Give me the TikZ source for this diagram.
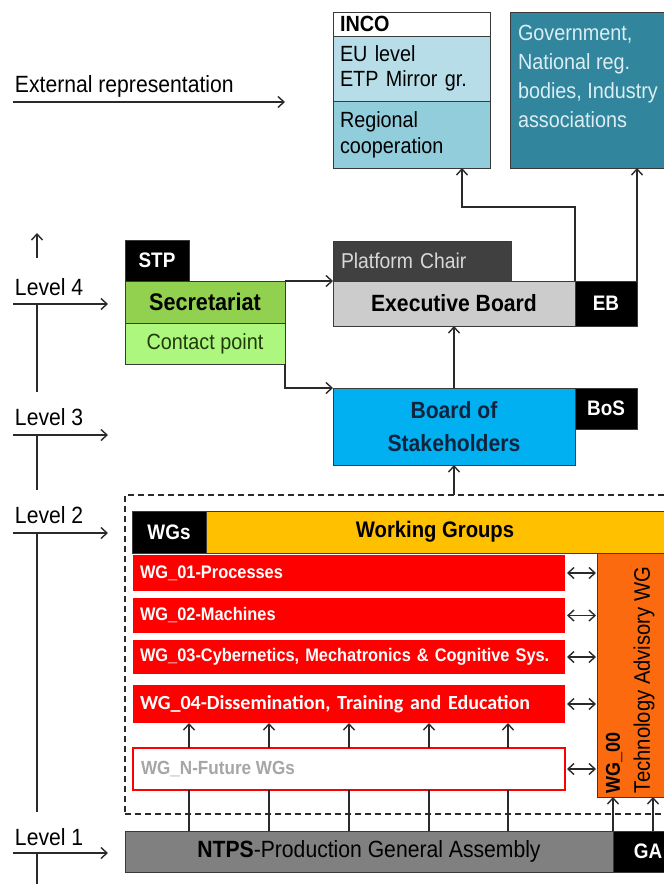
\documentclass[tikz,border=0pt]{standalone}
\usepackage{fontspec}
\setmainfont{Liberation Sans}[FakeStretch=0.9]
\newfontfamily\wgfont{Carlito}
\usetikzlibrary{arrows.meta}

\definecolor{edgec}{HTML}{3A3A3A}
\definecolor{cline}{HTML}{2A2A2A}
\definecolor{incoA}{HTML}{B7DEE8}
\definecolor{incoB}{HTML}{92CDDC}
\definecolor{govc}{HTML}{31859C}
\definecolor{govtext}{HTML}{DBEEF4}
\definecolor{chairc}{HTML}{404040}
\definecolor{chairtext}{HTML}{D9D9D9}
\definecolor{ebc}{HTML}{CCCCCC}
\definecolor{secc}{HTML}{92D050}
\definecolor{contc}{HTML}{AEF77E}
\definecolor{conttext}{HTML}{1F3A0C}
\definecolor{bosc}{HTML}{00B0F0}
\definecolor{bostext}{HTML}{10243F}
\definecolor{wgyellow}{HTML}{FFC000}
\definecolor{wgred}{HTML}{FF0000}
\definecolor{wgorange}{HTML}{FB6A0E}
\definecolor{futuretext}{HTML}{A6A6A6}
\definecolor{gac}{HTML}{808080}

\newcommand\setfs[2]{\fontsize{#1}{#2}\selectfont}

\begin{document}
\begin{tikzpicture}[x=1pt,y=-1pt,
  box/.style={draw=edgec, line width=0.9pt, anchor=north west, inner sep=0pt, outer sep=0pt},
  tag/.style={box, fill=black, text=white, font=\setfs{21}{24}\bfseries},
  wgrow/.style={anchor=north west, fill=wgred, text=white, inner xsep=7pt, inner ysep=0pt,
    outer sep=0pt, minimum width=432pt, text width=418pt, align=left, font=\setfs{18.2}{22}\bfseries},
  conn/.style={draw=cline, line width=1.4pt, -{Straight Barb[length=6pt,width=11pt]}},
  conn2/.style={draw=cline, line width=1.4pt,
    {Straight Barb[length=6pt,width=11pt]}-{Straight Barb[length=6pt,width=11pt]}},
  wire/.style={draw=cline, line width=1.4pt},
  txt/.style={inner sep=0pt, outer sep=0pt},
  lvl/.style={txt, anchor=base west, font=\setfs{23.5}{26}},
  frame/.style={draw=cline, line width=1.3pt, dash pattern=on 6pt off 4pt, anchor=north west,
    inner sep=0pt, outer sep=0pt},
]
\useasboundingbox (0,0) rectangle (664,884);
\clip (0,0) rectangle (664,884);

% ---- external representation bodies
\node[box, fill=white, minimum width=157pt, minimum height=24pt, text width=143pt, inner xsep=7pt,
  align=left, font=\setfs{22}{25}\bfseries] (incohead) at (333,12) {INCO};
\node[box, fill=incoA, minimum width=157pt, minimum height=65pt, text width=143pt, inner xsep=7pt,
  align=left, font=\setfs{22}{25}] (incoeu) at (333,36) {EU level\\ETP Mirror gr.};
\node[box, fill=incoB, minimum width=157pt, minimum height=67pt, text width=143pt, inner xsep=7pt,
  align=left, font=\setfs{22}{26}] (incoreg) at (333,101) {Regional\\cooperation};
\node[box, fill=govc, minimum width=170pt, minimum height=156pt] (gov) at (510,12) {};
\node[txt, anchor=north west, align=left, text=govtext, font=\setfs{22}{29}] (govt) at (518,25)
  {Government,\\National reg.\\bodies, Industry\\associations};

% ---- level 4: secretariat and executive board
\node[tag, minimum width=64pt, minimum height=41pt] (stp) at (125,240) {STP};
\node[box, fill=secc, minimum width=160pt, minimum height=42pt, font=\setfs{24}{26}\bfseries] (secr) at (125,281) {Secretariat};
\node[box, fill=contc, minimum width=160pt, minimum height=41pt, text=conttext, font=\setfs{22}{25}] (contact) at (125,323) {Contact point};
\node[box, fill=chairc, minimum width=176pt, minimum height=40pt, text width=162pt, inner xsep=8pt,
  align=left, text=chairtext, font=\setfs{21.5}{24}] (chair) at (333,241) {Platform Chair};
\node[box, fill=ebc, minimum width=242pt, minimum height=45pt, font=\setfs{23.5}{26}\bfseries] (ebmain) at (333,281) {Executive Board};
\node[tag, minimum width=62pt, minimum height=45pt] (ebtag) at (575,281) {EB};

% ---- level 3: board of stakeholders
\node[box, fill=bosc, minimum width=242pt, minimum height=77pt, align=center, text=bostext,
  font=\setfs{23.5}{33}\bfseries] (bos) at (333,388) {Board of\\Stakeholders};
\node[tag, minimum width=62pt, minimum height=41pt] (bostag) at (575,388) {BoS};

% ---- level 2: working groups
\node[frame, minimum width=600pt, minimum height=319pt] (wgframe) at (125,495) {};
\node[tag, minimum width=74pt, minimum height=42pt] (wgs) at (132,511) {WGs};
\node[box, fill=wgyellow, minimum width=500pt, minimum height=42pt] (wgbar) at (206,511) {};
\node[txt, font=\setfs{22.5}{25}\bfseries] (wgtitle) at (435,532) {Working Groups};
\node[wgrow, minimum height=36pt] (wg1) at (133,555) {\mbox{WG\_01-Processes}};
\node[wgrow, minimum height=35pt] (wg2) at (133,598) {\mbox{WG\_02-Machines}};
\node[wgrow, minimum height=34pt] (wg3) at (133,640) {\mbox{WG\_03-Cybernetics, Mechatronics \& Cognitive Sys.}};
\node[wgrow, minimum height=38pt, font=\wgfont\setfs{20}{24}\bfseries] (wg4) at (133,685)
  {\mbox{WG\_04-Dissemination, Training and Education}};
\node[box, draw=wgred, line width=1.2pt, fill=white, minimum width=432pt, minimum height=42pt] (wgN) at (133,748) {};
\node[txt, anchor=west, text=futuretext, font=\setfs{19}{22}\bfseries] (wgNt) at (141,769) {WG\_N-Future WGs};
\node[box, fill=wgorange, minimum width=100pt, minimum height=244pt] (tawg) at (597,553) {};
\node[txt, rotate=90, anchor=north west, align=left, font=\setfs{22.5}{30}] (tawgt) at (606,793)
  {{\setfs{20}{30}\bfseries WG\_00}\\Technology Advisory WG};

% ---- level 1: general assembly
\node[box, fill=gac, minimum width=488pt, minimum height=41pt, font=\setfs{23.5}{26}] (ntps) at (125,831)
  {\textbf{NTPS}-Production General Assembly};
\node[tag, minimum width=70pt, minimum height=41pt, font=\setfs{21}{24}\bfseries] (ga) at (613,831) {GA};

% ---- connectors
\draw[conn] (ebmain.north east) -- (ebmain.north east |- 0,207) -| (incoreg.south -| 462,0);
\draw[conn] (ebtag.north east) -- (gov.south -| ebtag.north east);
\draw[conn] (secr.north east) -- (ebmain.north west);
\draw[conn] (contact.south east) |- (bos.north west);
\draw[conn] (bos.north) -- (ebmain.south);
\draw[conn] (wgframe.north -| bos.south) -- (bos.south);
\foreach \w in {wg1,wg2,wg3,wg4,wgN}
  \draw[conn2] ([xshift=2pt]\w.east) -- ([xshift=-1pt]\w.east -| tawg.west);
\foreach \x in {189,269,349,429,508} {
  \draw[wire] (ntps.north -| \x,0) -- (wgN.south -| \x,0);
  \draw[conn] (wgN.north -| \x,0) -- (wg4.south -| \x,0);
}
\draw[conn] (ga.north west) -- (tawg.south -| ga.north west);
\draw[conn] (ga.north -| 653,0) -- (tawg.south -| 653,0);

% ---- level axis
\node[txt, anchor=base west, font=\setfs{23.5}{26}] (extrep) at (15,92) {External representation};
\coordinate (ext0) at (13,102);
\coordinate (ext1) at (285,102);
\draw[conn] (ext0) -- (ext1);

\coordinate (up0) at (37,258);
\coordinate (up1) at (37,233);
\draw[conn] (up0) -- (up1);

\node[lvl] (lv4) at (15,295) {Level 4};
\node[lvl] (lv3) at (15,425) {Level 3};
\node[lvl] (lv2) at (15,523) {Level 2};
\node[lvl] (lv1) at (15,845) {Level 1};

\foreach \n/\y in {4/304,3/435,2/533,1/853} {
  \coordinate (la\n) at (13,\y);
  \coordinate (lb\n) at (108,\y);
  \draw[conn] (la\n) -- (lb\n);
}
\coordinate (ax4a) at (37,304); \coordinate (ax4b) at (37,392);
\coordinate (ax3a) at (37,435); \coordinate (ax3b) at (37,490);
\coordinate (ax2a) at (37,533); \coordinate (ax2b) at (37,812);
\coordinate (ax1a) at (37,853); \coordinate (ax1b) at (37,884);
\foreach \n in {4,3,2,1}
  \draw[wire] (ax\n a) -- (ax\n b);
\end{tikzpicture}
\end{document}
